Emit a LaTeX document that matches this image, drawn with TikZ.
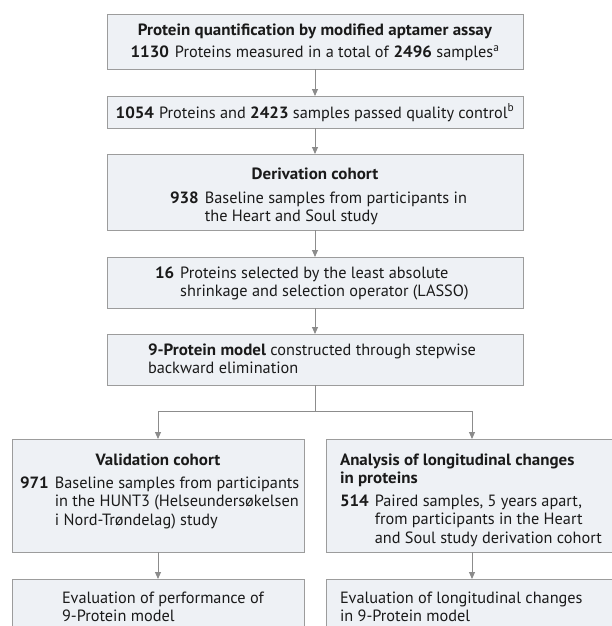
\documentclass[tikz,border=0pt]{standalone}
\usepackage{fontspec}
\setmainfont{PT Sans}[BoldFeatures={FakeStretch=1.04}]
\usetikzlibrary{arrows.meta}
\definecolor{boxfill}{HTML}{EEF1F5}
\definecolor{boxline}{HTML}{9C9C9C}
\definecolor{arrowc}{HTML}{8C8C8C}
\definecolor{txt}{HTML}{1A1A1A}
\newcommand{\numblock}[2]{\begin{tabular}[t]{@{}l@{\hspace{6pt}}l@{}}\textbf{#1}&\begin{tabular}[t]{@{}l@{}}#2\end{tabular}\end{tabular}}
\newcommand{\lines}[1]{\begin{tabular}[t]{@{}l@{}}#1\end{tabular}}
\tikzset{
  box/.style={draw=boxline, fill=boxfill, line width=0.9pt, inner sep=0pt, outer sep=0pt, anchor=north west},
  txtnode/.style={inner sep=0pt, outer sep=0pt, text=txt, font=\fontsize{16.3}{18.8}\selectfont},
  arr/.style={draw=arrowc, line width=0.9pt, -{Triangle[width=6pt,length=7pt]}},
  conn/.style={draw=arrowc, line width=0.9pt}
}
\begin{document}
\begin{tikzpicture}[x=1pt,y=-1pt]
\useasboundingbox (0,0) rectangle (612,626);
\clip (0,0) rectangle (612,626);
% boxes
\node[box, minimum width=416pt, minimum height=55pt] (b1) at (107,14) {};
\node[box, minimum width=416pt, minimum height=32pt] (b2) at (107,96) {};
\node[box, minimum width=416pt, minimum height=76pt] (b3) at (107,154) {};
\node[box, minimum width=416pt, minimum height=51pt] (b4) at (107,257) {};
\node[box, minimum width=416pt, minimum height=51pt] (b5) at (107,334) {};
\node[box, minimum width=292pt, minimum height=113pt] (bl) at (12,439) {};
\node[box, minimum width=292pt, minimum height=113pt] (br) at (326,439) {};
\node[box, minimum width=292pt, minimum height=70pt] (el) at (12,579) {};
\node[box, minimum width=292pt, minimum height=70pt] (er) at (326,579) {};
% texts
\node[txtnode, anchor=base] (t1a) at (315,36) {\textbf{Protein quantification by modified aptamer assay}};
\node[txtnode, anchor=base] (t1b) at (315,58) {\textbf{1130}\hspace{6pt}Proteins measured in a total of \textbf{2496} samples\textsuperscript{a}};
\node[txtnode, anchor=base] (t2) at (315,118) {\textbf{1054}\hspace{5pt}Proteins and \textbf{2423} samples passed quality control\textsuperscript{b}};
\node[txtnode, anchor=base] (t3a) at (315,179) {\textbf{Derivation cohort}};
\node[txtnode, anchor=base west] (t3b) at (170,203) {\numblock{938}{Baseline samples from participants in\\the Heart and Soul study}};
\node[txtnode, anchor=base west] (t4) at (155,278) {\numblock{16}{Proteins selected by the least absolute\\shrinkage and selection operator (LASSO)}};
\node[txtnode, anchor=base west] (t5) at (148,355) {\lines{\textbf{9-Protein model} constructed through stepwise\\backward elimination}};
\node[txtnode, anchor=base] (tla) at (158,465) {\textbf{Validation cohort}};
\node[txtnode, anchor=base west] (tlb) at (20,488) {\numblock{971}{Baseline samples from participants\\in the HUNT3 (Helseundersøkelsen\\i Nord-Trøndelag) study}};
\node[txtnode, anchor=base west] (tra) at (340,465) {\lines{\textbf{Analysis of longitudinal changes}\\\textbf{in proteins}}};
\node[txtnode, anchor=base west] (trb) at (340,506) {\numblock{514}{Paired samples, 5 years apart,\\from participants in the Heart\\and Soul study derivation cohort}};
\node[txtnode, anchor=base west] (tel) at (62,603) {\lines{Evaluation of performance of\\9-Protein model}};
\node[txtnode, anchor=base west] (ter) at (340,603) {\lines{Evaluation of longitudinal changes\\in 9-Protein model}};
% connectors
\draw[arr] (b1.south) -- (b2.north);
\draw[arr] (b2.south) -- (b3.north);
\draw[arr] (b3.south) -- (b4.north);
\draw[arr] (b4.south) -- (b5.north);
\coordinate (split) at (315,411);
\draw[conn] (b5.south) -- (split);
\draw[arr] (split) -| (bl.north);
\draw[arr] (split) -| (br.north);
\draw[arr] (bl.south) -- (el.north);
\draw[arr] (br.south) -- (er.north);
\end{tikzpicture}
\end{document}
